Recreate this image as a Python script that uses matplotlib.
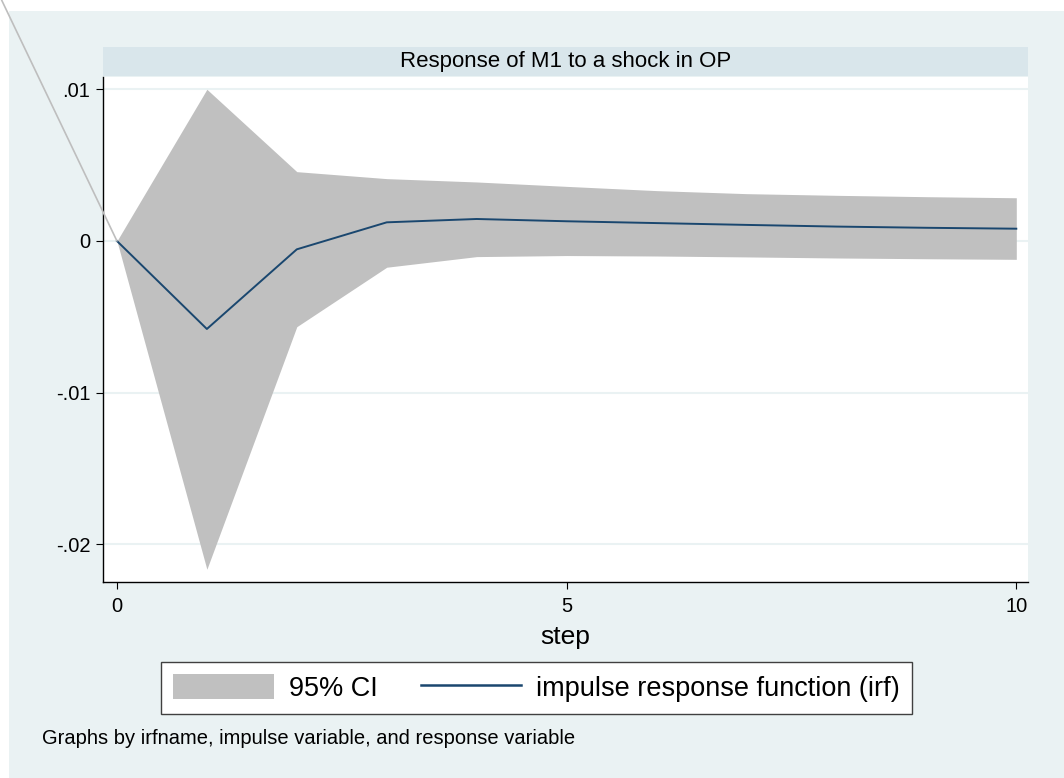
import numpy as np
import matplotlib as mpl
import matplotlib.pyplot as plt
from matplotlib.patches import Patch, Rectangle
from matplotlib.lines import Line2D

mpl.rcParams['font.family'] = ['Liberation Sans', 'DejaVu Sans']

steps = [0, 1, 2, 3, 4, 5, 6, 7, 8, 9, 10]
irf = [0, -0.0058, -0.00055, 0.00123, 0.00145, 0.0013, 0.00118, 0.00106, 0.00095, 0.00087, 0.00081]
ci_upper = [0, 0.0100, 0.00457, 0.00411, 0.00389, 0.0036, 0.00332, 0.00312, 0.00301, 0.00292, 0.00285]
ci_lower = [0, -0.02164, -0.00565, -0.00173, -0.00103, -0.00096, -0.00099, -0.00105, -0.00112, -0.00117, -0.00121]

yticks = [0.01, 0, -0.01, -0.02]
ytick_labels = ['.01', '0', '-.01', '-.02']
xticks = [0, 5, 10]

title = 'Response of M1 to a shock in OP'
note = 'Graphs by irfname, impulse variable, and response variable'

bg = '#EAF2F3'
bar = '#D9E6EB'
navy = '#1A476F'
ci_gray = '#C0C0C0'

W, H = 1064, 778
fig = plt.figure(figsize=(W / 100, H / 100), dpi=100, facecolor='white')

# graph region background (white strip at top and left)
fig.patches.append(Rectangle((9 / W, 0), 1 - 9 / W, 1 - 11 / H, transform=fig.transFigure,
                             facecolor=bg, edgecolor='none', zorder=-10))
# title bar
fig.patches.append(Rectangle((103 / W, 1 - 76 / H), (1028 - 103) / W, 29 / H, transform=fig.transFigure,
                             facecolor=bar, edgecolor='none', zorder=-5))
fig.text((103 + 1028) / 2 / W, 1 - 62 / H, title, ha='center', va='center', fontsize=16, color='black')

ax = fig.add_axes([103 / W, 1 - 582 / H, (1028 - 103) / W, (582 - 77) / H])
ax.set_facecolor('white')

ax.fill_between(steps, ci_lower, ci_upper, color=ci_gray, linewidth=0, zorder=2)
ax.plot(steps, irf, color=navy, linewidth=1.4, zorder=3)

ax.set_xlim(-0.155, 10.13)
ax.set_ylim(-0.02248, 0.01081)
ax.set_xticks(xticks)
ax.set_yticks(yticks)
ax.set_yticklabels(ytick_labels)
ax.grid(axis='y', color=bg, linewidth=1.5, zorder=0)
ax.set_axisbelow(True)

for s in ['top', 'right']:
    ax.spines[s].set_visible(False)
for s in ['left', 'bottom']:
    ax.spines[s].set_color('black')
    ax.spines[s].set_linewidth(1.0)

ax.tick_params(axis='both', direction='out', length=5, width=0.8, color='black', labelsize=14.5)
ax.tick_params(axis='y', pad=4)
ax.tick_params(axis='x', pad=5.5)
ax.set_xlabel('step', fontsize=19, labelpad=7)

# diagonal stray line from top-left corner to origin
ax.annotate('', xy=(0, 0), xycoords='data', xytext=(0.0015, 1.0), textcoords='figure fraction',
            arrowprops=dict(arrowstyle='-', color='#BEBEBE', linewidth=1.2, shrinkA=0, shrinkB=0),
            zorder=5, annotation_clip=False)

handles = [Patch(facecolor=ci_gray, edgecolor='none'),
           Line2D([], [], color=navy, linewidth=1.8)]
leg = fig.legend(handles, ['95% CI', 'impulse response function (irf)'], loc='center',
                 bbox_to_anchor=(536.5 / W, 1 - 688 / H), ncol=2, fontsize=19.5,
                 frameon=True, fancybox=False, edgecolor='#404040', facecolor='white', framealpha=1,
                 handlelength=3.7, handleheight=1.0, handletextpad=0.55, columnspacing=1.6,
                 borderpad=0.45)
leg.get_frame().set_linewidth(1.0)

fig.text(42 / W, 1 - 739 / H, note, ha='left', va='center', fontsize=14.5)

fig.savefig('out.png', dpi=100)
